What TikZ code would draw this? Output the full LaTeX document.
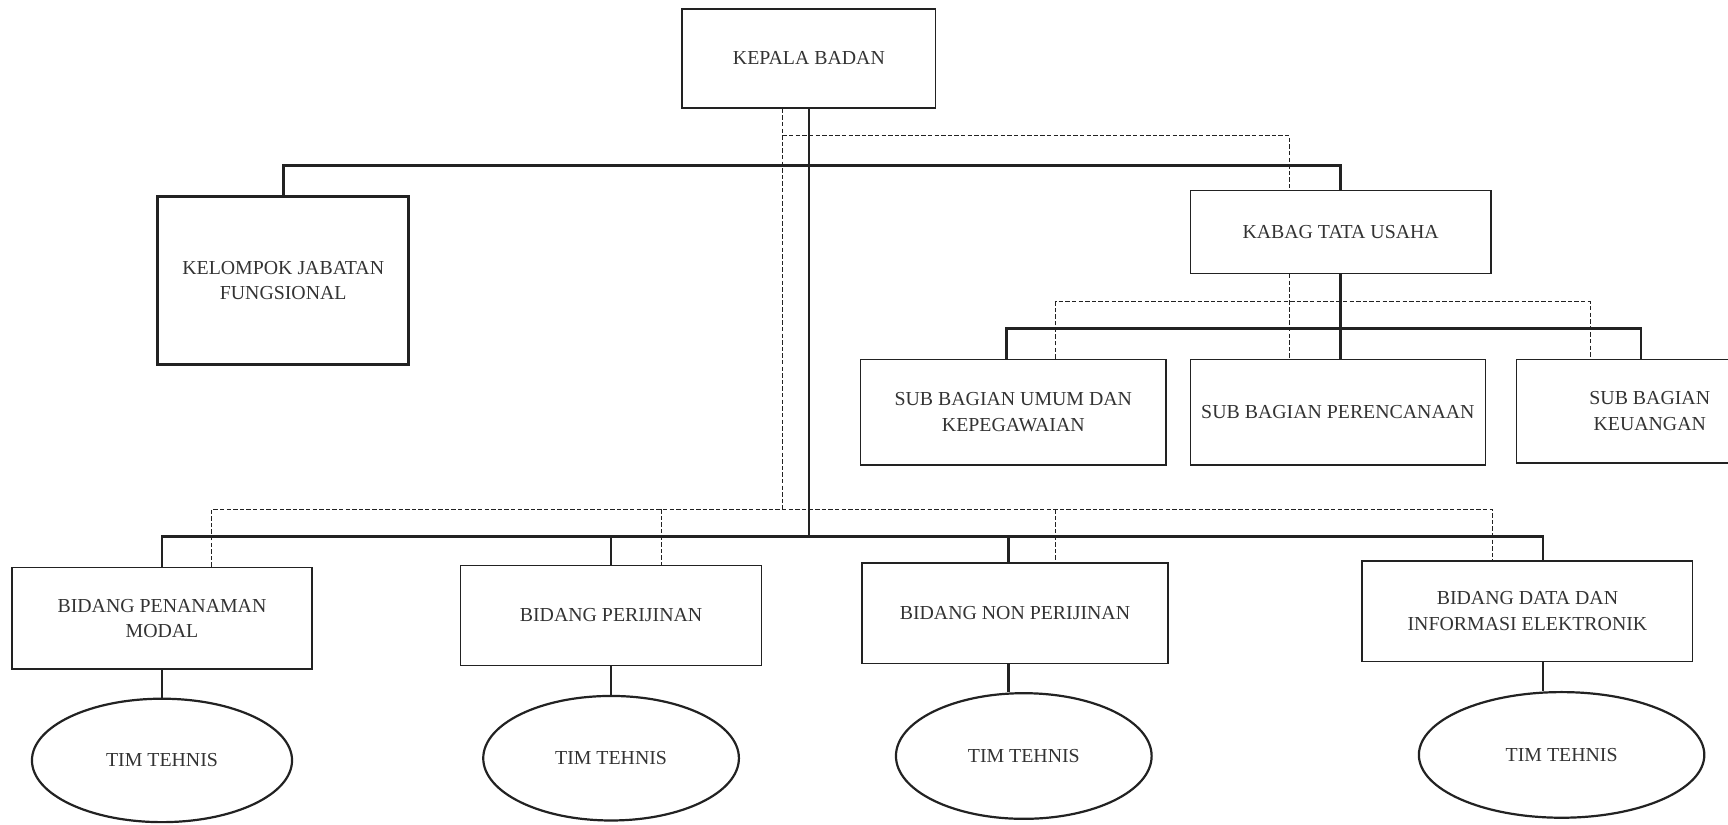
\documentclass[tikz,border=0pt]{standalone}
\usepackage{fontspec}
\setmainfont{Liberation Serif}
\usetikzlibrary{shapes.geometric}
\definecolor{ink}{HTML}{222222}
\definecolor{txt}{HTML}{333333}
\tikzset{
  box/.style={draw=ink, line width=1.3pt, rectangle, inner sep=0pt, align=center, text=txt,
    font=\fontsize{18}{23}\selectfont},
  thickbox/.style={box, line width=2.8pt},
  oval/.style={draw=ink, line width=2pt, ellipse, inner sep=0pt, align=center, text=txt,
    font=\fontsize{18}{23}\selectfont},
  conn/.style={draw=ink, line width=2.5pt},
  dsh/.style={draw=ink, line width=0.9pt, dash pattern=on 4pt off 2pt},
}
\begin{document}
\begin{tikzpicture}[x=1pt, y=-1pt]
\useasboundingbox (0,0) rectangle (1568,748);
\clip (0,0) rectangle (1568,748);
% nodes
\node[box, minimum width=230pt, minimum height=90pt] (kepala) at (734,53) {KEPALA BADAN};
\node[thickbox, minimum width=228pt, minimum height=153pt] (kelompok) at (257,254.5) {KELOMPOK JABATAN\\FUNGSIONAL};
\node[box, minimum width=273pt, minimum height=75pt] (kabag) at (1216.5,210.5) {KABAG TATA USAHA};
\node[box, minimum width=277pt, minimum height=96pt] (sub1) at (919.5,374) {SUB BAGIAN UMUM DAN\\KEPEGAWAIAN};
\node[box, minimum width=268pt, minimum height=96pt] (sub2) at (1214,374) {SUB BAGIAN PERENCANAAN};
\node[box, minimum width=242pt, minimum height=94pt] (sub3) at (1497,373) {SUB BAGIAN\\KEUANGAN};
\node[box, minimum width=272pt, minimum height=92pt] (pen) at (147,561) {BIDANG PENANAMAN\\MODAL};
\node[box, minimum width=273pt, minimum height=91pt] (per) at (554.5,558.5) {BIDANG PERIJINAN};
\node[box, minimum width=278pt, minimum height=91pt] (non) at (921,556.5) {BIDANG NON PERIJINAN};
\node[box, minimum width=300pt, minimum height=91pt] (data) at (1386,554.5) {BIDANG DATA DAN\\INFORMASI ELEKTRONIK};
\node[oval, minimum width=236pt, minimum height=112pt] (t1) at (147,690) {TIM TEHNIS};
\node[oval, minimum width=232pt, minimum height=113pt] (t2) at (554.5,688) {TIM TEHNIS};
\node[oval, minimum width=232pt, minimum height=114pt] (t3) at (929,686) {TIM TEHNIS};
\node[oval, minimum width=259pt, minimum height=114pt] (t4) at (1417,685) {TIM TEHNIS};
% junction coordinates
\coordinate (tb) at (735,150);
\coordinate (dt) at (710,123);
\coordinate (dtR) at (1170,123);
\coordinate (ssL) at (913,298);
\coordinate (ssR) at (1489,298);
\coordinate (dsL) at (958,274);
\coordinate (dsR) at (1443,274);
\coordinate (db) at (710,462);
\coordinate (dbL) at (192,462);
\coordinate (dbP) at (600,462);
\coordinate (dbN) at (958,462);
\coordinate (dbR) at (1354,462);
\coordinate (sb) at (735,487);
\coordinate (sbN) at (915,487);
\coordinate (sbR) at (1400,487);
% solid connectors
\draw[conn] (kepala.south) -- (kepala.south |- sb);
\draw[conn] (kelompok.north) |- (kabag.north |- tb) -- (kabag.north);
\draw[conn] (kabag.south) -- (kabag.south |- sub2.north);
\draw[conn] (ssL |- sub1.north) -- (ssL) -- (ssR) -- (ssR |- sub3.north);
\draw[conn] (pen.north) |- (sbR) -- (sbR |- data.north);
\draw[conn] (per.north |- sb) -- (per.north);
\draw[conn] (sbN) -- (sbN |- non.north);
\draw[conn] (pen.south) -- (t1.north);
\draw[conn] (per.south) -- (t2.north);
\draw[conn] (sbN |- non.south) -- (sbN |- t3.north);
\draw[conn] (sbR |- data.south) -- (sbR |- t4.north);
% dashed connectors
\draw[dsh] (dt |- kepala.south) -- (db);
\draw[dsh] (dt) -- (dtR) -- (dtR |- kabag.north);
\draw[dsh] (dtR |- kabag.south) -- (dtR |- sub2.north);
\draw[dsh] (dsL |- sub1.north) -- (dsL) -- (dsR) -- (dsR |- sub3.north);
\draw[dsh] (dbL |- pen.north) -- (dbL) -- (dbR) -- (dbR |- data.north);
\draw[dsh] (dbP) -- (dbP |- per.north);
\draw[dsh] (dbN) -- (dbN |- non.north);
\end{tikzpicture}
\end{document}
